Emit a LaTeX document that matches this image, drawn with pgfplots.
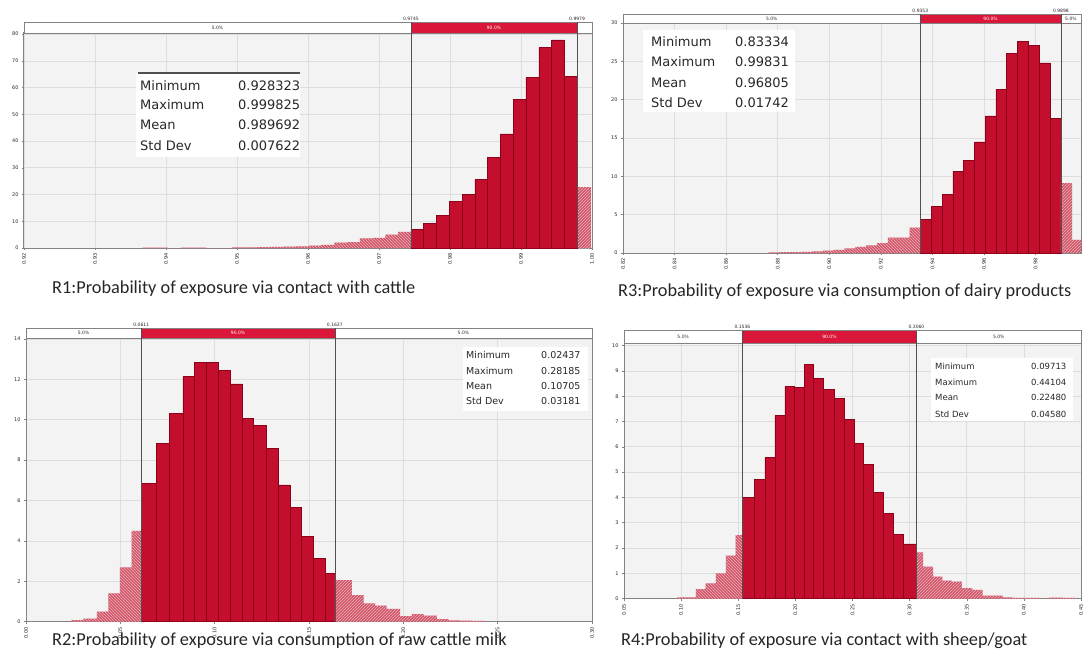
\documentclass[border=0pt]{standalone}
\usepackage{pgfplots}
\pgfplotsset{compat=1.18}
\usepackage{fontspec}
\setmainfont{Carlito}
\newfontfamily\statfont{DejaVu Sans}
\usetikzlibrary{patterns}

\definecolor{bgc}{RGB}{243,243,243}
\definecolor{gridc}{RGB}{221,221,221}
\definecolor{axisc}{RGB}{130,130,130}
\definecolor{bardark}{RGB}{140,0,26}
\definecolor{barred}{RGB}{195,14,46}
\definecolor{bandred}{RGB}{218,22,58}
\definecolor{hatchc}{RGB}{210,85,105}
\definecolor{delim}{RGB}{80,80,80}
\definecolor{txt}{RGB}{40,40,40}

\pgfplotsset{
  panel/.style={scale only axis, anchor=south west, clip=false,
    axis background/.style={fill=bgc},
    grid=major, major grid style={gridc, line width=0.6pt},
    axis line style={axisc, line width=1pt},
    tick style={axisc, line width=0.5pt}, tick align=outside, major tick length=2pt,
    xtick pos=bottom, ytick pos=left,
    ticklabel style={font=\statfont\fontsize{5}{6}\selectfont, text=txt},
    xticklabel style={rotate=90, anchor=east,
      /pgf/number format/.cd, fixed, fixed zerofill, precision=2},
    /pgf/number format/assume math mode=true},
  redbar/.style={ybar interval, draw=bardark, line width=0.5pt, fill=barred},
  hatchL/.style={ybar interval, draw=none, fill=hatchc,
    postaction={pattern=north west lines, pattern color=white!55!hatchc}},
  hatchR/.style={ybar interval, draw=none, fill=hatchc,
    postaction={pattern=north east lines, pattern color=white!55!hatchc}},
}
\tikzset{
  bandtxt/.style={font=\statfont\fontsize{4.5}{5}\selectfont, text=txt, inner sep=0pt},
  dtxt/.style={font=\statfont\fontsize{4.5}{5}\selectfont, text=txt, inner sep=1.5pt, anchor=south},
  dline/.style={delim, line width=0.7pt},
  stattxt/.style={anchor=west, inner sep=0pt, text=txt},
  captxt/.style={anchor=west, inner sep=0pt, text=black!85, font=\fontsize{18.3}{21}\selectfont},
}

\begin{document}
\begin{tikzpicture}
\useasboundingbox (0,0) rectangle (1083pt,657pt);

% R1
\begin{axis}[panel, at={(24pt,409pt)}, width=568pt, height=215pt,
  xmin=0.92, xmax=1.00, ymin=0, ymax=80.4,
  xtick={0.92,0.93,0.94,0.95,0.96,0.97,0.98,0.99,1.00}, ytick={0,10,...,80}]
\addplot[hatchL] coordinates {(0.9367,0.12)(0.9385,0.12)(0.9403,0)(0.9421,0.12)(0.9439,0.12)(0.9457,0)(0.9475,0)
  (0.9493,0.2)(0.9511,0.25)(0.9529,0.3)(0.9547,0.4)(0.9565,0.55)(0.9583,0.65)(0.9601,0.9)(0.9619,1.2)
  (0.9637,2.0)(0.9655,2.2)(0.9673,3.6)(0.9691,3.8)(0.9709,5.0)(0.9727,6.0)(0.9745,0)};
\addplot[redbar] coordinates {(0.9745,7.0)(0.9763,9.3)(0.9781,12.1)(0.9799,17.3)(0.9817,20.1)(0.9835,25.7)
  (0.9853,34.0)(0.9871,42.7)(0.9889,55.7)(0.9907,63.8)(0.9925,75.0)(0.9943,77.8)(0.9961,64.3)(0.9979,0)};
\addplot[hatchR] coordinates {(0.9979,22.7)(0.99982,0)};
\fill[white] (rel axis cs:0,1) rectangle ([yshift=10.5pt]rel axis cs:1,1);
\fill[bandred] (axis cs:0.9745,80.4) rectangle ([yshift=10.5pt]axis cs:0.9979,80.4);
\draw[axisc, line width=0.8pt] (rel axis cs:0,1) rectangle ([yshift=10.5pt]rel axis cs:1,1);
\draw[dline] (axis cs:0.9745,0) -- ([yshift=10.5pt]axis cs:0.9745,80.4);
\draw[dline] (axis cs:0.9979,0) -- ([yshift=10.5pt]axis cs:0.9979,80.4);
\node[bandtxt] at ([yshift=5.25pt]axis cs:0.94725,80.4) {5.0\%};
\node[bandtxt, text=white] at ([yshift=5.25pt]axis cs:0.9862,80.4) {90.0\%};
\node[dtxt] at ([yshift=10.5pt]axis cs:0.9745,80.4) {0.9745};
\node[dtxt] at ([yshift=10.5pt]axis cs:0.9979,80.4) {0.9979};
\end{axis}

% R3
\begin{axis}[panel, at={(623pt,404pt)}, width=458pt, height=230pt,
  xmin=0.82, xmax=0.9976, ymin=0, ymax=30,
  xtick={0.82,0.84,0.86,0.88,0.90,0.92,0.94,0.96,0.98}, ytick={0,5,...,30}]
\addplot[hatchL] coordinates {(0.8765,0.08)(0.8807,0.1)(0.8849,0.12)(0.8891,0.15)(0.8933,0.2)(0.8975,0.3)
  (0.9017,0.4)(0.9059,0.6)(0.9101,0.8)(0.9143,1.0)(0.9185,1.3)(0.9227,2.0)(0.9269,2.0)(0.9311,3.3)(0.9353,0)};
\addplot[redbar] coordinates {(0.9353,4.4)(0.9395,6.1)(0.9437,7.6)(0.9479,10.6)(0.9521,12.1)(0.9563,14.5)
  (0.9605,17.9)(0.9646,21.3)(0.9688,26.0)(0.9730,27.6)(0.9772,27.1)(0.9814,24.8)(0.9856,17.6)(0.9898,0)};
\addplot[hatchR] coordinates {(0.9898,9.1)(0.9942,1.7)(0.9976,0)};
\fill[white] (rel axis cs:0,1) rectangle ([yshift=9pt]rel axis cs:1,1);
\fill[bandred] (axis cs:0.9353,30) rectangle ([yshift=9pt]axis cs:0.9898,30);
\draw[axisc, line width=0.8pt] (rel axis cs:0,1) rectangle ([yshift=9pt]rel axis cs:1,1);
\draw[dline] (axis cs:0.9353,0) -- ([yshift=9pt]axis cs:0.9353,30);
\draw[dline] (axis cs:0.9898,0) -- ([yshift=9pt]axis cs:0.9898,30);
\node[bandtxt] at ([yshift=4.5pt]axis cs:0.8777,30) {5.0\%};
\node[bandtxt, text=white] at ([yshift=4.5pt]axis cs:0.96255,30) {90.0\%};
\node[bandtxt] at ([yshift=4.5pt]axis cs:0.9937,30) {5.0\%};
\node[dtxt] at ([yshift=9pt]axis cs:0.9353,30) {0.9353};
\node[dtxt] at ([yshift=9pt]axis cs:0.9898,30) {0.9898};
\end{axis}

% R2
\begin{axis}[panel, at={(26pt,35.3pt)}, width=566pt, height=283.7pt,
  xmin=0, xmax=0.30, ymin=0, ymax=14.04,
  xtick={0,0.05,0.10,0.15,0.20,0.25,0.30}, ytick={0,2,...,14}]
\addplot[hatchL] coordinates {(0.0242,0.08)(0.0304,0.15)(0.0375,0.5)(0.0437,1.4)(0.0498,2.69)(0.0560,4.5)(0.0611,0)};
\addplot[redbar] coordinates {(0.0611,6.85)(0.0690,8.83)(0.0760,10.3)(0.0831,12.13)(0.0892,12.82)(0.0958,12.82)
  (0.1020,12.43)(0.1082,11.77)(0.1144,10.05)(0.1205,9.72)(0.1276,8.58)(0.1338,6.77)(0.1400,5.64)(0.1460,4.21)
  (0.1523,3.14)(0.1585,2.4)(0.1637,0)};
\addplot[hatchR] coordinates {(0.1637,2.06)(0.1727,1.32)(0.1789,0.91)(0.1850,0.79)(0.1912,0.63)(0.1983,0.28)
  (0.2045,0.38)(0.2107,0.30)(0.2178,0.13)(0.2239,0.06)(0.2301,0.05)(0.2363,0.04)(0.2434,0)};
\fill[white] (rel axis cs:0,1) rectangle ([yshift=10pt]rel axis cs:1,1);
\fill[bandred] (axis cs:0.0611,14.04) rectangle ([yshift=10pt]axis cs:0.1637,14.04);
\draw[axisc, line width=0.8pt] (rel axis cs:0,1) rectangle ([yshift=10pt]rel axis cs:1,1);
\draw[dline] (axis cs:0.0611,0) -- ([yshift=10pt]axis cs:0.0611,14.04);
\draw[dline] (axis cs:0.1637,0) -- ([yshift=10pt]axis cs:0.1637,14.04);
\node[bandtxt] at ([yshift=5pt]axis cs:0.03055,14.04) {5.0\%};
\node[bandtxt, text=white] at ([yshift=5pt]axis cs:0.1124,14.04) {90.0\%};
\node[bandtxt] at ([yshift=5pt]axis cs:0.23185,14.04) {5.0\%};
\node[dtxt] at ([yshift=10pt]axis cs:0.0611,14.04) {0.0611};
\node[dtxt] at ([yshift=10pt]axis cs:0.1637,14.04) {0.1637};
\end{axis}

% R4
\begin{axis}[panel, at={(624pt,58.4pt)}, width=457pt, height=255.3pt,
  xmin=0.05, xmax=0.45, ymin=0, ymax=10.09,
  xtick={0.05,0.10,0.15,0.20,0.25,0.30,0.35,0.40,0.45}, ytick={0,1,...,10}]
\addplot[hatchL] coordinates {(0.0967,0.05)(0.1128,0.37)(0.1215,0.6)(0.1303,1.0)(0.1391,1.7)(0.1478,2.51)(0.1536,0)};
\addplot[redbar] coordinates {(0.1536,4.0)(0.1644,4.71)(0.1732,5.58)(0.1820,7.24)(0.1907,8.38)(0.1989,8.34)
  (0.2076,9.26)(0.2158,8.71)(0.2245,8.28)(0.2336,7.92)(0.2426,7.09)(0.2514,6.14)(0.2595,5.31)(0.2683,4.2)
  (0.2771,3.37)(0.2858,2.54)(0.2943,2.16)(0.3060,0)};
\addplot[hatchR] coordinates {(0.3060,1.83)(0.3118,1.26)(0.3206,0.87)(0.3287,0.71)(0.3369,0.67)(0.3457,0.41)
  (0.3550,0.35)(0.3638,0.12)(0.3725,0.12)(0.3813,0.05)(0.3900,0.03)(0.4134,0)(0.4222,0.04)(0.4338,0.03)(0.4455,0)};
\fill[white] (rel axis cs:0,1) rectangle ([yshift=12.6pt]rel axis cs:1,1);
\fill[bandred] (axis cs:0.1536,10.09) rectangle ([yshift=12.6pt]axis cs:0.3060,10.09);
\draw[axisc, line width=0.8pt] (rel axis cs:0,1) rectangle ([yshift=12.6pt]rel axis cs:1,1);
\draw[dline] (axis cs:0.1536,0) -- ([yshift=12.6pt]axis cs:0.1536,10.09);
\draw[dline] (axis cs:0.3060,0) -- ([yshift=12.6pt]axis cs:0.3060,10.09);
\node[bandtxt] at ([yshift=6.3pt]axis cs:0.1018,10.09) {5.0\%};
\node[bandtxt, text=white] at ([yshift=6.3pt]axis cs:0.2298,10.09) {90.0\%};
\node[bandtxt] at ([yshift=6.3pt]axis cs:0.378,10.09) {5.0\%};
\node[dtxt] at ([yshift=12.6pt]axis cs:0.1536,10.09) {0.1536};
\node[dtxt] at ([yshift=12.6pt]axis cs:0.3060,10.09) {0.3060};
\end{axis}

% statistics boxes and captions, in image pixel coordinates
\begin{scope}[x=1pt, y=-1pt, yshift=657pt]
  % R1
  \fill[white] (136,73) rectangle (300,157);
  \draw[delim, line width=1.2pt] (138,73) -- (300,73);
  \foreach \y/\a/\b in {86/Minimum/0.928323, 105/Maximum/0.999825, 125/Mean/0.989692, 146/Std Dev/0.007622}
    {\node[stattxt, font=\statfont\fontsize{13}{15}\selectfont] at (140,\y) {\a};
     \node[stattxt, font=\statfont\fontsize{13}{15}\selectfont] at (238,\y) {\b};}
  % R3
  \fill[white] (643,30) rectangle (795,112);
  \foreach \y/\a/\b in {42/Minimum/0.83334, 62/Maximum/0.99831, 83/Mean/0.96805, 103/Std Dev/0.01742}
    {\node[stattxt, font=\statfont\fontsize{13}{15}\selectfont] at (651,\y) {\a};
     \node[stattxt, font=\statfont\fontsize{13}{15}\selectfont] at (735,\y) {\b};}
  % R2
  \fill[white] (463,347) rectangle (588,411);
  \foreach \y/\a/\b in {355/Minimum/0.02437, 371/Maximum/0.28185, 386/Mean/0.10705, 401/Std Dev/0.03181}
    {\node[stattxt, font=\statfont\fontsize{9.5}{11}\selectfont] at (466,\y) {\a};
     \node[stattxt, font=\statfont\fontsize{9.5}{11}\selectfont] at (541,\y) {\b};}
  % R4
  \fill[white] (931,358) rectangle (1073,421);
  \foreach \y/\a/\b in {366/Minimum/0.09713, 382/Maximum/0.44104, 397/Mean/0.22480, 414/Std Dev/0.04580}
    {\node[stattxt, font=\statfont\fontsize{8.5}{10}\selectfont] at (935,\y) {\a};
     \node[stattxt, font=\statfont\fontsize{8.5}{10}\selectfont] at (1031,\y) {\b};}
  % captions
  \node[captxt] at (52,289) {R1:Probability of exposure via contact with cattle};
  \node[captxt] at (618,292) {R3:Probability of exposure via consumption of dairy products};
  \node[captxt] at (52,641) {R2:Probability of exposure via consumption of raw cattle milk};
  \node[captxt] at (621,641) {R4:Probability of exposure via contact with sheep/goat};
\end{scope}
\end{tikzpicture}
\end{document}
